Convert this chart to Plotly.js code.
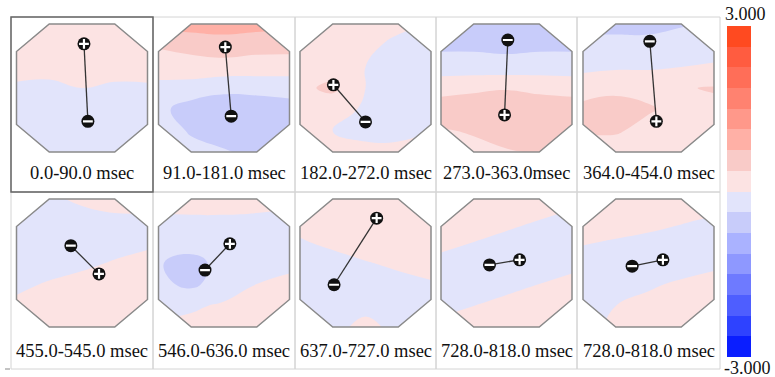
<!DOCTYPE html>
<html><head><meta charset="utf-8">
<script src="https://cdn.plot.ly/plotly-3.0.1.min.js"></script>
<style>html,body{margin:0;padding:0;background:#fff}#chart{width:775px;height:377px}</style>
</head><body><div id="chart"></div>
<script>
// ---- data ----
const labels = ["0.0-90.0 msec","91.0-181.0 msec","182.0-272.0 msec","273.0-363.0msec","364.0-454.0 msec",
                "455.0-545.0 msec","546.0-636.0 msec","637.0-727.0 msec","728.0-818.0 msec","728.0-818.0 msec"];
// grid of each map: columns left->right, rows top->bottom (normalised head coordinates)
const gridX = [-1, -0.5, 0, 0.5, 1];
const gridY = [1, 0.67, 0.33, 0, -0.33, -0.67, -1];
const map1 = [[0.2,0.2,0.2,0.2,0.2],[0.18,0.18,0.18,0.18,0.18],[0.12,0.12,0.12,0.12,0.12],[-0.05,-0.08,0.0,-0.05,-0.04],[-0.15,-0.15,-0.15,-0.15,-0.15],[-0.2,-0.2,-0.2,-0.2,-0.2],[-0.2,-0.2,-0.2,-0.2,-0.2]];
const map2 = [[0.9,0.95,0.95,0.9,0.85],[0.4,0.45,0.55,0.5,0.5],[0.25,0.28,0.25,0.22,0.2],[-0.15,-0.2,-0.3,-0.28,-0.25],[-0.3,-0.5,-0.55,-0.55,-0.5],[-0.25,-0.4,-0.5,-0.55,-0.55],[-0.2,-0.3,-0.35,-0.45,-0.5]];
const map3 = [[0.15,0.15,0.1,0.05,0.0],[0.1,0.1,0.05,-0.05,-0.1],[0.15,0.2,0.0,-0.1,-0.15],[0.3,0.45,0.0,-0.12,-0.15],[0.15,0.15,-0.05,-0.1,-0.1],[0.05,0.0,-0.05,-0.05,0.0],[0.05,0.05,0.05,0.05,0.05]];
const map4 = [[-0.6,-0.65,-0.65,-0.6,-0.6],[-0.45,-0.45,-0.48,-0.45,-0.45],[-0.2,-0.2,-0.22,-0.2,-0.2],[0.25,0.3,0.35,0.3,0.25],[0.55,0.6,0.6,0.55,0.55],[0.35,0.4,0.5,0.55,0.55],[0.25,0.3,0.35,0.4,0.45]];
const map5 = [[-0.45,-0.45,-0.45,-0.4,-0.35],[-0.3,-0.3,-0.3,-0.25,-0.2],[-0.1,-0.05,-0.05,0.0,0.05],[0.25,0.3,0.3,0.35,0.4],[0.45,0.5,0.4,0.3,0.3],[0.4,0.4,0.3,0.25,0.25],[0.25,0.25,0.2,0.2,0.2]];
const map6 = [[-0.1,-0.05,0.05,0.1,0.1],[-0.15,-0.15,-0.1,-0.05,-0.05],[-0.2,-0.2,-0.15,-0.1,-0.05],[-0.15,-0.1,-0.05,0.02,0.08],[-0.05,0.02,0.08,0.12,0.15],[0.05,0.12,0.15,0.18,0.2],[0.12,0.15,0.2,0.2,0.2]];
const map7 = [[0.1,0.15,0.15,0.1,0.05],[-0.05,-0.05,-0.05,-0.05,-0.05],[-0.2,-0.2,-0.15,-0.1,-0.1],[-0.35,-0.5,-0.25,-0.1,-0.05],[-0.3,-0.45,-0.2,0.0,0.05],[-0.1,-0.05,0.05,0.1,0.1],[0.05,0.1,0.1,0.1,0.1]];
const map8 = [[0.15,0.15,0.15,0.15,0.15],[0.08,0.1,0.12,0.12,0.12],[-0.02,0.05,0.08,0.1,0.1],[-0.1,-0.08,-0.01,0.03,0.08],[-0.15,-0.12,-0.08,-0.05,-0.02],[-0.15,-0.1,-0.05,-0.08,-0.1],[-0.1,-0.05,0.05,-0.05,-0.1]];
const map9 = [[0.15,0.15,0.12,0.08,0.05],[0.12,0.1,0.05,0.0,-0.05],[0.05,0.0,-0.05,-0.08,-0.08],[-0.05,-0.1,-0.1,-0.08,-0.05],[-0.08,-0.08,-0.05,0.0,0.05],[-0.05,0.0,0.05,0.08,0.1],[0.05,0.08,0.1,0.1,0.1]];
const map10 = [[0.15,0.15,0.15,0.12,0.1],[0.12,0.12,0.08,0.02,-0.02],[0.02,-0.02,-0.06,-0.08,-0.08],[-0.1,-0.12,-0.12,-0.1,-0.05],[-0.12,-0.1,-0.03,0.03,0.08],[-0.1,0.0,0.06,0.1,0.12],[-0.08,0.05,0.1,0.12,0.12]];
const maps = [map1,map2,map3,map4,map5,map6,map7,map8,map9,map10];
// dipole ends (normalised head coordinates)
const plusX  = [0.03, 0.02, -0.49, -0.03, 0.12, 0.26, 0.09, 0.17, 0.20, 0.22];
const plusY  = [0.69, 0.64, 0.05, -0.42, -0.52, -0.17, 0.30, 0.70, 0.05, 0.05];
const minusX = [0.09, 0.11, 0.00, 0.02, 0.02, -0.17, -0.29, -0.48, -0.26, -0.25];
const minusY = [-0.52, -0.44, -0.53, 0.75, 0.73, 0.27, -0.11, -0.34, -0.03, -0.05];
// colour scale: 16 bands between -3 and 3
const scaleMin = -3, scaleMax = 3;
const bandColors = ['#0a1eff','#2e42ff','#4e5eff','#6e7aff','#8e98ff','#aab2ff','#c8ccfa','#e2e4fb',
                    '#fce3e3','#f9cbc8','#ffb0a6','#ff988a','#ff8270','#ff6e58','#ff5c40','#ff4a20'];
const scaleTickTop = "3.000", scaleTickBottom = "-3.000";

// ---- layout geometry ----
const W = 775, H = 377;
const colEdges = [11, 153, 295, 436, 577, 720];
const rowEdges = [17, 192, 369];
const rowCenters = [88, 263];
const labelY = [173, 351];
const halfW = 65.5, halfH = 64, pad = 1.06;
const octCutX = 0.5, octCutY = 0.57;
const px = v => v / W, py = v => 1 - v / H;
const serif = "'Liberation Serif', 'Times New Roman', serif";

const nb = bandColors.length;
const bandSize = (scaleMax - scaleMin) / nb;
const colorscale = bandColors.map((c, j) => [j / (nb - 1), c]);

const data = [], shapes = [], annotations = [];
const layout = {width: W, height: H, margin: {l:0, r:0, t:0, b:0}, paper_bgcolor: '#fff',
  plot_bgcolor: 'rgba(0,0,0,0)', showlegend: false, shapes, annotations};

// cell grid
for (let r = 0; r < 2; r++) for (let c = 0; c < 5; c++) {
  shapes.push({type:'rect', xref:'paper', yref:'paper', x0:px(colEdges[c]), x1:px(colEdges[c+1]),
    y0:py(rowEdges[r]), y1:py(rowEdges[r+1]), line:{color:'#d4d4d4', width:1}, fillcolor:'rgba(0,0,0,0)', layer:'below'});
}
shapes.push({type:'rect', xref:'paper', yref:'paper', x0:px(colEdges[0]), x1:px(colEdges[1]),
  y0:py(rowEdges[0]), y1:py(rowEdges[1]), line:{color:'#666', width:1.5}, fillcolor:'rgba(0,0,0,0)'});
shapes.push({type:'line', xref:'paper', yref:'paper', x0:px(5), x1:px(10), y0:py(369), y1:py(369), line:{color:'#888', width:1}});

const oct = [[-octCutX,1],[octCutX,1],[1,octCutY],[1,-octCutY],[octCutX,-1],[-octCutX,-1],[-1,-octCutY],[-1,octCutY]];

maps.forEach((m, i) => {
  const k = i + 1, c = i % 5, r = Math.floor(i / 5);
  const cx = (colEdges[c] + colEdges[c+1]) / 2, cy = rowCenters[r];
  const xa = 'xaxis' + (k === 1 ? '' : k), ya = 'yaxis' + (k === 1 ? '' : k);
  const xr = 'x' + (k === 1 ? '' : k), yr = 'y' + (k === 1 ? '' : k);
  layout[xa] = {domain:[px(cx - halfW*pad), px(cx + halfW*pad)], range:[-pad, pad], visible:false, fixedrange:true};
  layout[ya] = {domain:[py(cy + halfH*pad), py(cy - halfH*pad)], range:[-pad, pad], visible:false, fixedrange:true};
  data.push({type:'contour', x:gridX, y:gridY.slice().reverse(), z:m.slice().reverse(),
    xaxis:xr, yaxis:yr, colorscale, autocontour:false,
    contours:{start:scaleMin + bandSize, end:scaleMax - bandSize, size:bandSize, coloring:'fill', showlines:false},
    line:{width:0, smoothing:1.3}, showscale:false, hoverinfo:'skip'});
  // white corners outside the octagon
  const e = 0.03;
  [[-1,1],[1,1],[1,-1],[-1,-1]].forEach(([sx, sy]) => {
    const path = `M ${sx*(1+e)} ${sy*(octCutY - e*0.86)} L ${sx*(octCutX - e*1.16)} ${sy*(1+e)} L ${sx*(1+e)} ${sy*(1+e)} Z`;
    shapes.push({type:'path', xref:xr, yref:yr, path, fillcolor:'#fff', line:{width:0}});
  });
  shapes.push({type:'path', xref:xr, yref:yr, path:'M ' + oct.map(p => p.join(' ')).join(' L ') + ' Z',
    line:{color:'#8a8a8a', width:1.5}, fillcolor:'rgba(0,0,0,0)'});
  // dipole
  data.push({type:'scatter', mode:'lines', x:[plusX[i], minusX[i]], y:[plusY[i], minusY[i]], xaxis:xr, yaxis:yr,
    line:{color:'#333', width:1.3}, hoverinfo:'skip'});
  data.push({type:'scatter', mode:'markers', x:[plusX[i], minusX[i]], y:[plusY[i], minusY[i]], xaxis:xr, yaxis:yr,
    marker:{symbol:'circle', size:13, color:'#111', line:{width:0}}, hoverinfo:'skip'});
  data.push({type:'scatter', mode:'markers', x:[plusX[i], minusX[i]], y:[plusY[i], minusY[i]], xaxis:xr, yaxis:yr,
    marker:{symbol:['cross-thin','line-ew'], size:7, color:'#fff', line:{color:'#fff', width:2.2}}, hoverinfo:'skip'});
  annotations.push({xref:'paper', yref:'paper', x:px(cx), y:py(labelY[r]), text:labels[i], showarrow:false,
    xanchor:'center', yanchor:'middle', font:{family:serif, size:18.5, color:'#111'}});
});

// colour bar
const cbCenters = bandColors.map((_, j) => scaleMin + bandSize * (j + 0.5));
data.push({type:'heatmap', x:[0], y:cbCenters, z:bandColors.map((_, j) => [j]), zmin:0, zmax:nb - 1,
  colorscale, showscale:false, xaxis:'x11', yaxis:'y11', hoverinfo:'skip'});
layout.xaxis11 = {domain:[px(727), px(751)], range:[-0.5, 0.5], visible:false, fixedrange:true};
layout.yaxis11 = {domain:[py(357), py(26)], range:[scaleMin, scaleMax], visible:false, fixedrange:true};
annotations.push({xref:'paper', yref:'paper', x:px(745), y:py(14), text:scaleTickTop, showarrow:false,
  xanchor:'center', yanchor:'middle', font:{family:serif, size:18, color:'#111'}});
annotations.push({xref:'paper', yref:'paper', x:px(747), y:py(368), text:scaleTickBottom, showarrow:false,
  xanchor:'center', yanchor:'middle', font:{family:serif, size:18, color:'#111'}});

Plotly.newPlot('chart', data, layout, {staticPlot:true});
</script></body></html>
